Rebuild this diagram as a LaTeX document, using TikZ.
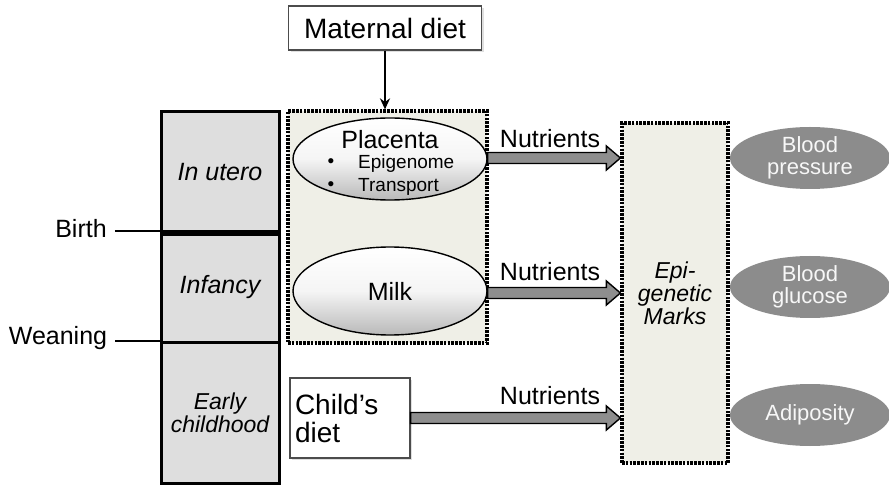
\documentclass[tikz,border=0pt]{standalone}
\usepackage{fontspec}
\setmainfont{Liberation Sans}
\usetikzlibrary{calc,arrows.meta,shadows,shapes.geometric}
\definecolor{beige}{HTML}{EFEFE7}
\definecolor{tlgray}{HTML}{DEDEDE}
\definecolor{ovgray}{HTML}{8C8C8C}
\definecolor{arrgray}{HTML}{8E8E8E}
\newcommand\fsz[1]{\fontsize{#1}{#1}\selectfont}
\newcommand\fatarrow[2]{%
  \draw[fill=arrgray,draw=black,line width=1.4pt,line join=miter]
  ($(#1)+(0,-5.5)$) -- ($(#2)+(-14,-5.5)$) -- ($(#2)+(-14,-12)$) -- (#2)
  -- ($(#2)+(-14,12)$) -- ($(#2)+(-14,5.5)$) -- ($(#1)+(0,5.5)$) -- cycle;}
\tikzset{
  seg/.style={draw=black,line width=3pt,fill=tlgray,minimum width=118pt,inner sep=0pt,font=\fsz{25}\itshape},
  dotbox/.style={draw=black,line width=3.2pt,dash pattern=on 2.6pt off 1.2pt,fill=beige,inner sep=0pt},
  dietbox/.style={draw=gray!60!black,line width=1.3pt,fill=white,inner sep=0pt,
    drop shadow={opacity=0.25,shadow xshift=2pt,shadow yshift=-2pt}},
  shell/.style={ellipse,draw=black,line width=1.4pt,top color=white,bottom color=gray!55,middle color=white!92!gray,inner sep=0pt},
  outc/.style={ellipse,fill=ovgray,inner sep=0pt,minimum width=160pt,minimum height=62pt,
    text=white!94!gray,font=\fsz{22},align=center},
  lab/.style={font=\fsz{25},inner sep=0pt},
}
\begin{document}
\begin{tikzpicture}[x=1pt,y=-1pt]
\useasboundingbox (0,0) rectangle (889,486);
% timeline
\node[seg,minimum height=120pt] (utero) at (220,172) {In utero};
\node[seg,minimum height=111pt] (inf) at (220,287.5) {Infancy};
\node[seg,minimum height=140pt,font=\fsz{23}\itshape,align=center] (early) at (220,413) {\baselineskip=27pt Early\\childhood};
\draw[line width=5pt] (utero.south west) -- (utero.south east);
\node[lab] (birth) at (81,229) {Birth};
\node[lab] (wean) at (58,338) {Weaning};
\draw[line width=2pt] (birth.east) ++(8,2) coordinate (b1) -- (b1 -| utero.south west);
\draw[line width=2pt] (wean.east) ++(8,3) coordinate (w1) -- (w1 -| inf.south west);
% maternal diet
\node[dietbox,minimum width=193pt,minimum height=44pt,font=\fsz{28}] (mat) at (385,28) {Maternal diet};
\node[dotbox,minimum width=199pt,minimum height=232pt] (mbox) at (387.5,227) {};
\draw[line width=2.5pt,-{Stealth[length=11pt,width=10pt]}] (mat.south) -- (mat.south |- mbox.north);
% placenta and milk
\node[shell,minimum width=194pt,minimum height=82pt] (plac) at (390,159) {};
\node[lab,anchor=base] (plact) at (390,149) {Placenta};
\node[font=\fsz{19},inner sep=0pt,anchor=base west] (epg) at (358,169) {Epigenome};
\node[font=\fsz{19},inner sep=0pt,anchor=base west] (trp) at (358,192) {Transport};
\node[font=\fsz{19},inner sep=0pt] (bu1) at (331,163) {•};
\node[font=\fsz{19},inner sep=0pt] (bu2) at (331,186) {•};
\node[shell,minimum width=194pt,minimum height=88pt,font=\fsz{25}] (milk) at (390,291) {Milk};
% child's diet
\node[dietbox,minimum width=120pt,minimum height=80pt,font=\fsz{28},align=left,text width=110pt] (child) at (350,418) {\baselineskip=33pt Child’s\\diet};
% epigenetic marks
\node[dotbox,minimum width=106pt,minimum height=340pt,font=\fsz{23}\itshape,align=center] (epi) at (675,293) {\baselineskip=27pt Epi-\\genetic\\Marks};
% arrows
\coordinate (a1s) at ($(plac.east)+(0,-1)$);
\coordinate (a1e) at (a1s -| epi.west);
\fatarrow{a1s}{a1e}
\coordinate (a2s) at ($(milk.east)+(0,2)$);
\coordinate (a2e) at (a2s -| epi.west);
\fatarrow{a2s}{a2e}
\coordinate (a3s) at (child.east);
\coordinate (a3e) at (a3s -| epi.west);
\fatarrow{a3s}{a3e}
\node[lab] (n1) at (550,139) {Nutrients};
\node[lab] (n2) at (550,272) {Nutrients};
\node[lab] (n3) at (550,396) {Nutrients};
% outcomes
\node[outc] (bp) at (810,158) {\baselineskip=27pt Blood\\pressure};
\node[outc] (bg) at (810,287) {\baselineskip=27pt Blood\\glucose};
\node[outc] (ad) at (810,415) {Adiposity};
\end{tikzpicture}
\end{document}
